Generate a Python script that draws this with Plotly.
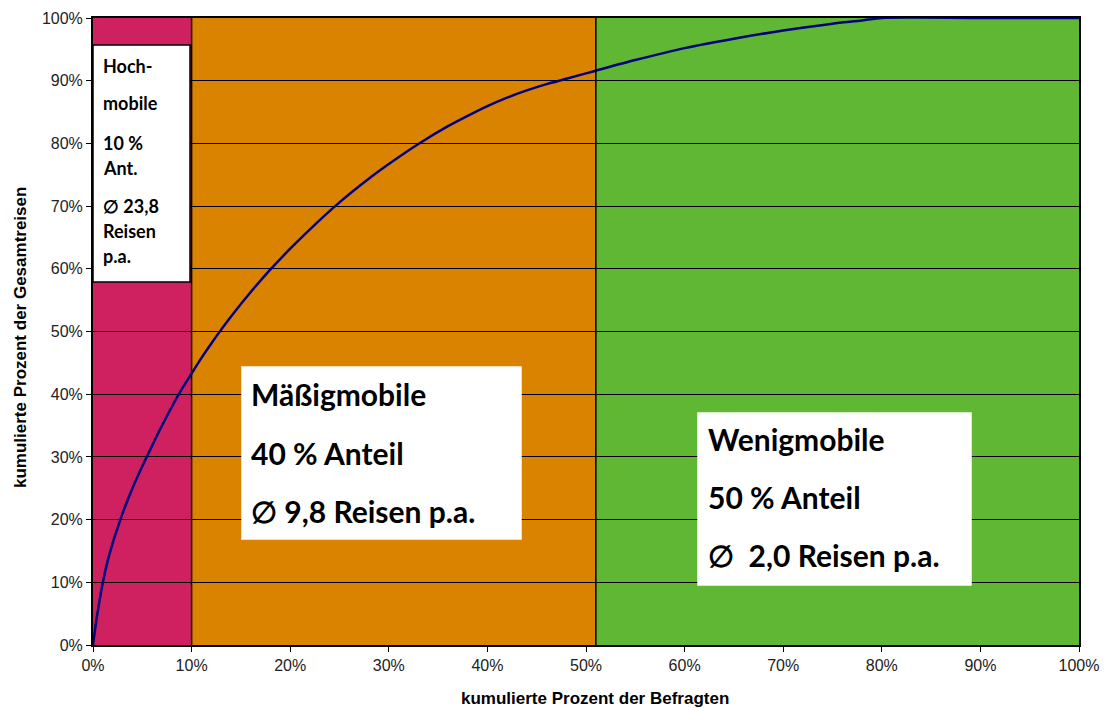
import plotly.graph_objects as go

# Lorenz curve: cumulative share of respondents vs. cumulative share of all trips (%)
cum_respondents = [0, 0.3, 0.6, 1, 1.5, 2, 2.5, 3, 4, 5, 6, 7, 8, 9, 10, 11, 12, 13, 14, 16,
                   18, 20, 22, 25, 28, 30, 33, 36, 38, 40, 42, 44, 46, 48, 51, 55, 60, 65,
                   70, 75, 78, 80, 90, 100]
cum_trips = [0, 3.5, 6.5, 10, 13.5, 16.3, 18.7, 21, 25, 28.5, 31.8, 35, 38, 40.8, 43.3, 45.8,
             48.1, 50.3, 52.4, 56.3, 59.9, 63.2, 66.3, 70.6, 74.4, 76.7, 79.9, 82.75, 84.4,
             85.95, 87.3, 88.45, 89.45, 90.3, 91.6, 93.3, 95.2, 96.7, 98.0, 99.1, 99.6, 100,
             100, 100]

# Mobility groups
groups = ["Hochmobile", "Mäßigmobile", "Wenigmobile"]
group_bounds = [0, 10, 51, 100]
group_share = [10, 40, 50]
group_avg_trips = ["23,8", "9,8", "2,0"]
group_colors = ["#CF215F", "#D98300", "#60B733"]

tick_vals = [0, 10, 20, 30, 40, 50, 60, 70, 80, 90, 100]
tick_text = [f"{v}%" for v in tick_vals]

# Plot area geometry (pixels)
W, H = 1104, 708
L, R, T, B = 93, 25, 18, 63
pw, ph = W - L - R, H - T - B


def dx(px):
    return (px - L) / pw * 100


def dy(py):
    return (H - B - py) / ph * 100


def px_paper(px):
    return (px - L) / pw


def py_paper(py):
    return (H - B - py) / ph


fig = go.Figure()

fig.add_trace(go.Scatter(
    x=cum_respondents, y=cum_trips, mode="lines",
    line=dict(color="#000080", width=2.5, shape="spline", smoothing=0.8),
    hoverinfo="skip", showlegend=False,
))

shapes = []
# Coloured group backgrounds
for i in range(len(groups)):
    shapes.append(dict(type="rect", layer="below", xref="x", yref="y",
                       x0=group_bounds[i], x1=group_bounds[i + 1], y0=0, y1=100,
                       fillcolor=group_colors[i], line=dict(width=0)))
# Group dividers
for b in group_bounds[1:-1]:
    shapes.append(dict(type="line", layer="above", xref="x", yref="y",
                       x0=b, x1=b, y0=0, y1=100, line=dict(color="black", width=1.5)))

# White text boxes
boxes = [
    (93, 190, 45, 282),
    (242, 521, 367, 539),
    (698, 971, 413, 585),
]
for x0, x1, y0, y1 in boxes:
    shapes.append(dict(type="rect", layer="above", xref="x", yref="y",
                       x0=dx(x0), x1=dx(x1), y0=dy(y1), y1=dy(y0),
                       fillcolor="white",
                       line=dict(color="black" if x0 == 93 else "white", width=1.5)))

annotations = []
box_font = "Lato, Calibri, 'Open Sans', sans-serif"

# Narrow box for the high-mobility group
hoch_lines = [("Hoch-", 68), ("mobile", 105), (f"{group_share[0]} %", 145), ("Ant.", 170),
              (f"∅ {group_avg_trips[0]}", 208), ("Reisen", 233), ("p.a.", 258)]
for txt, py in hoch_lines:
    annotations.append(dict(text=f"<b>{txt}</b>", x=dx(101), y=dy(py - 2), xref="x", yref="y",
                            xanchor="left", yanchor="middle", showarrow=False,
                            font=dict(family=box_font, size=18, color="black")))

mid_lines = [(groups[1], 396), (f"{group_share[1]} % Anteil", 455),
             (f"∅ {group_avg_trips[1]} Reisen p.a.", 513)]
for txt, py in mid_lines:
    annotations.append(dict(text=f"<b>{txt}</b>", x=dx(249), y=dy(py - 2), xref="x", yref="y",
                            xanchor="left", yanchor="middle", showarrow=False,
                            font=dict(family=box_font, size=30, color="black")))

low_lines = [(groups[2], 441), (f"{group_share[2]} % Anteil", 499),
             (f"∅  {group_avg_trips[2]} Reisen p.a.", 557)]
for txt, py in low_lines:
    annotations.append(dict(text=f"<b>{txt}</b>", x=dx(706), y=dy(py - 2), xref="x", yref="y",
                            xanchor="left", yanchor="middle", showarrow=False,
                            font=dict(family=box_font, size=30, color="black")))

title_font = dict(family="Arial, 'Liberation Sans', sans-serif", size=17, color="black")
# Axis titles
annotations.append(dict(text="<b>kumulierte Prozent der Befragten</b>",
                        x=px_paper(595), y=py_paper(698), xref="paper", yref="paper",
                        showarrow=False, xanchor="center", yanchor="middle", font=title_font))
annotations.append(dict(text="<b>kumulierte Prozent der Gesamtreisen</b>",
                        x=px_paper(20), y=py_paper(338), xref="paper", yref="paper",
                        showarrow=False, textangle=-90, xanchor="center", yanchor="middle",
                        font=title_font))

axis_font = dict(family="Arial, 'Liberation Sans', sans-serif", size=16, color="#222222")

fig.update_layout(
    width=W, height=H,
    margin=dict(l=L, r=R, t=T, b=B, autoexpand=False),
    paper_bgcolor="white", plot_bgcolor="white",
    shapes=shapes, annotations=annotations,
    showlegend=False,
    xaxis=dict(range=[0, 100], tickvals=tick_vals, ticktext=tick_text, ticks="outside",
               ticklen=5, tickcolor="black", showgrid=False, zeroline=False,
               showline=True, linecolor="black", linewidth=2, mirror=True,
               tickfont=axis_font, automargin=False),
    yaxis=dict(range=[0, 100], tickvals=tick_vals, ticktext=tick_text, ticks="outside",
               ticklen=5, tickcolor="black", showgrid=True, gridcolor="black", gridwidth=1,
               zeroline=False, showline=True, linecolor="black", linewidth=2, mirror=True,
               tickfont=axis_font, automargin=False),
)

fig.write_html("out.html")
